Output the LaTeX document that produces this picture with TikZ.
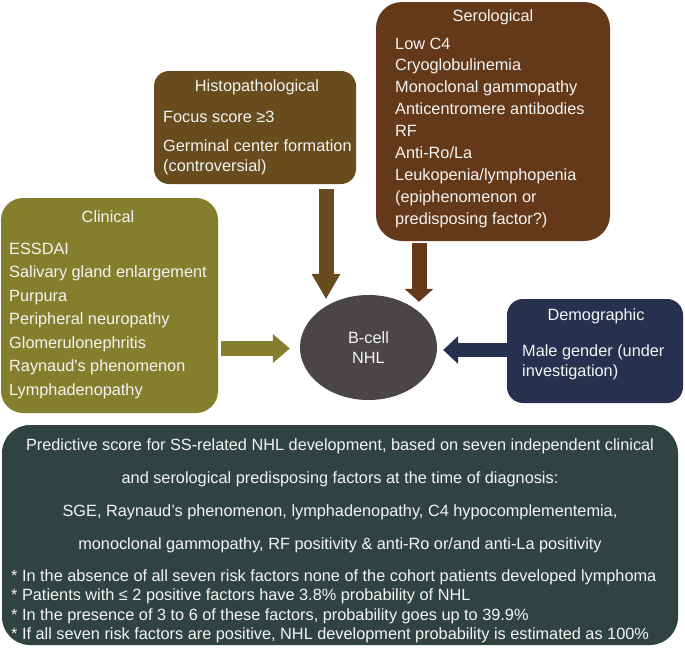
\documentclass[tikz,border=0pt]{standalone}
\usepackage{fontspec}
\setmainfont{Liberation Sans}
\usetikzlibrary{arrows.meta,shapes.geometric}
\definecolor{histocol}{HTML}{684C1E}
\definecolor{serocol}{HTML}{64391A}
\definecolor{clincol}{HTML}{857F2D}
\definecolor{democol}{HTML}{27314F}
\definecolor{nhlcol}{HTML}{4A4647}
\definecolor{botcol}{HTML}{2F4341}
\definecolor{txtcol}{HTML}{F4F4F4}
\begin{document}
\begin{tikzpicture}[x=1pt,y=-1pt,
  font=\fontsize{16.3}{20}\selectfont,
  box/.style={rectangle, inner sep=0pt, outer sep=0pt},
  txt/.style={anchor=base west, inner sep=0pt, text=txtcol},
  ttl/.style={anchor=base, inner sep=0pt, text=txtcol},
  fatarrow/.style={line width=15pt}]
\useasboundingbox (0,0) rectangle (685,653);
\fill[white] (0,0) rectangle (685,653);

% boxes
\node[box, fill=clincol, rounded corners=22pt, minimum width=217pt, minimum height=215pt] (clin) at (109.5,305.5) {};
\node[box, fill=histocol, rounded corners=15pt, minimum width=202pt, minimum height=113pt] (histo) at (255,127.5) {};
\node[box, fill=serocol, rounded corners=26pt, minimum width=234pt, minimum height=239pt] (sero) at (493,121.5) {};
\node[box, fill=democol, rounded corners=16pt, minimum width=176pt, minimum height=104pt] (demo) at (595,351) {};
\node[box, fill=botcol, rounded corners=28pt, minimum width=676pt, minimum height=220pt] (bot) at (340,535) {};
\node[ellipse, fill=nhlcol, inner sep=0pt, minimum width=137pt, minimum height=105pt,
      text=txtcol, align=center] (nhl) at (368.5,347.5) {B-cell\\NHL};

% titles
\node[ttl] (clinT) at (108,222) {Clinical};
\node[ttl] (histoT) at (257,91) {Histopathological};
\node[ttl] (seroT) at (493,21) {Serological};
\node[ttl] (demoT) at (596,320) {Demographic};

% clinical items
\foreach \t [count=\i] in {{ESSDAI}, {Salivary gland enlargement}, {Purpura}, {Peripheral neuropathy},
  {Glomerulonephritis}, {Raynaud\textquotesingle s phenomenon}, {Lymphadenopathy}}
  \node[txt] (clin\i) at (9,{254+23.5*(\i-1)}) {\t};

% histopathological items
\node[txt] (histo1) at (163,122) {Focus score ≥3};
\node[txt] (histo2) at (163,151) {Germinal center formation};
\node[txt] (histo3) at (163,171) {(controversial)};

% serological items
\foreach \t [count=\i] in {{Low C4}, {Cryoglobulinemia}, {Monoclonal gammopathy}, {Anticentromere antibodies},
  {RF}, {Anti-Ro/La}, {Leukopenia/lymphopenia}, {(epiphenomenon or}, {predisposing factor?)}}
  \node[txt] (sero\i) at (395,{49+21.9*(\i-1)}) {\t};

% demographic items
\node[txt] (demo1) at (522,356) {Male gender (under};
\node[txt] (demo2) at (522,376) {investigation)};

% bottom text
\foreach \t [count=\i] in {{Predictive score for SS-related NHL development, based on seven independent clinical},
  {and serological predisposing factors at the time of diagnosis:},
  {SGE, Raynaud’s phenomenon, lymphadenopathy, C4 hypocomplementemia,},
  {monoclonal gammopathy, RF positivity \& anti-Ro or/and anti-La positivity}}
  \node[ttl] (botC\i) at (340,{450+33*(\i-1)}) {\t};
\foreach \t [count=\i] in {{* In the absence of all seven risk factors none of the cohort patients developed lymphoma},
  {* Patients with ≤ 2 positive factors have 3.8\% probability of NHL},
  {* In the presence of 3 to 6 of these factors, probability goes up to 39.9\%},
  {* If all seven risk factors are positive, NHL development probability is estimated as 100\%}}
  \node[txt] (botB\i) at (11,{581+19.5*(\i-1)}) {\t};

% connectors
\coordinate (hx) at (326,0);
\coordinate (sx) at (419,0);
\coordinate (cy) at (0,348.5);
\coordinate (dy) at (0,350);
\draw[fatarrow, histocol, -{Triangle[width=29pt,length=25pt,line width=0pt]}, shorten <=5pt, shorten >=-4pt]
  (histo.south -| hx) -- (nhl.north -| hx);
\draw[fatarrow, serocol, -{Triangle[width=29pt,length=13pt,line width=0pt]}, shorten <=2pt, shorten >=-7pt]
  (sero.south -| sx) -- (nhl.north -| sx);
\draw[fatarrow, clincol, -{Triangle[width=29pt,length=17pt,line width=0pt]}, shorten <=3pt, shorten >=10pt]
  (clin.east |- cy) -- (nhl.west |- cy);
\draw[fatarrow, democol, line width=14pt, -{Triangle[width=28pt,length=15pt,line width=0pt]}, shorten <=-2pt, shorten >=6pt]
  (demo.west |- dy) -- (nhl.east |- dy);
\end{tikzpicture}
\end{document}
